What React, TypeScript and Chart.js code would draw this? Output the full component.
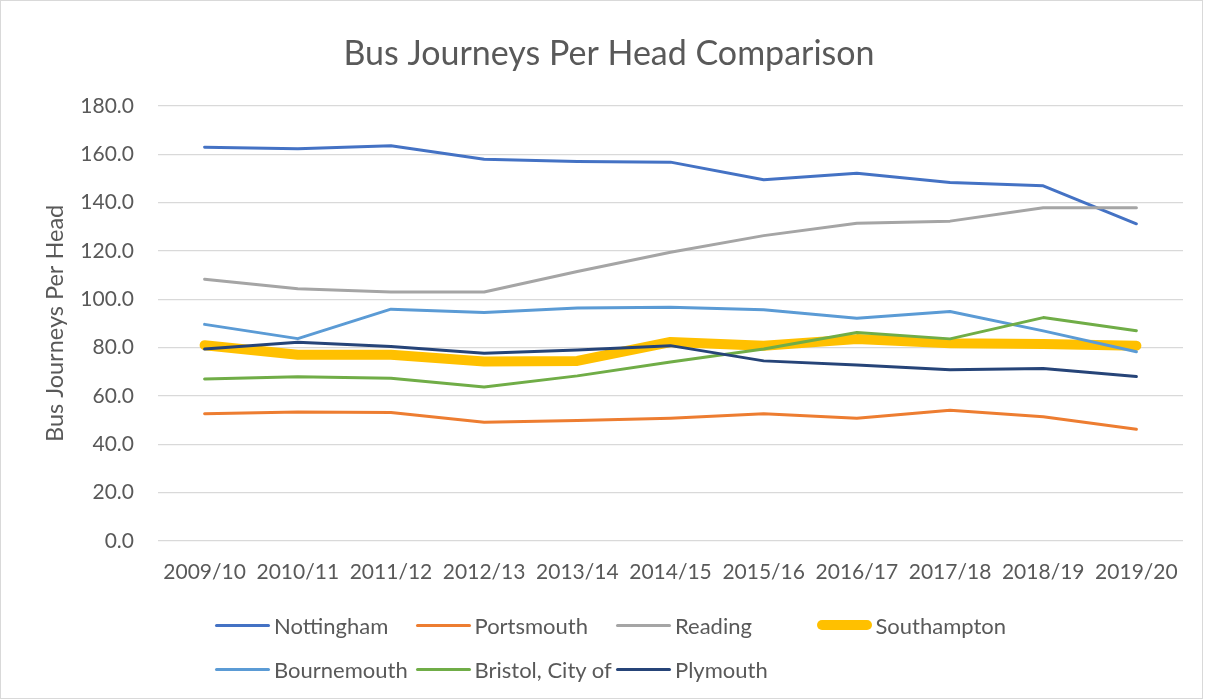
import React, { useEffect, useRef } from "react";
import { Chart, registerables } from "chart.js";

Chart.register(...registerables);

const categories = [
  "2009/10", "2010/11", "2011/12", "2012/13", "2013/14", "2014/15",
  "2015/16", "2016/17", "2017/18", "2018/19", "2019/20",
];

const nottingham = [162.9, 162.2, 163.5, 157.9, 157.0, 156.7, 149.4, 152.1, 148.3, 146.9, 131.2];
const portsmouth = [52.6, 53.4, 53.1, 49.1, 49.8, 50.8, 52.6, 50.8, 54.1, 51.4, 46.2];
const reading = [108.3, 104.3, 103.0, 103.0, 111.5, 119.4, 126.3, 131.4, 132.3, 137.8, 137.8];
const southampton = [81.0, 77.0, 77.0, 74.2, 74.5, 82.3, 80.8, 83.5, 81.8, 81.5, 80.8];
const bournemouth = [89.6, 83.7, 95.9, 94.5, 96.4, 96.7, 95.6, 92.1, 94.9, 86.9, 78.3];
const bristol = [67.0, 67.9, 67.3, 63.7, 68.3, 74.0, 79.4, 86.2, 83.6, 92.4, 87.0];
const plymouth = [79.4, 82.2, 80.4, 77.7, 79.0, 80.8, 74.5, 72.8, 70.8, 71.3, 68.0];

const seriesNames = ["Nottingham", "Portsmouth", "Reading", "Southampton", "Bournemouth", "Bristol, City of", "Plymouth"];
const seriesValues = [nottingham, portsmouth, reading, southampton, bournemouth, bristol, plymouth];
const seriesColors = ["#4472C4", "#ED7D31", "#A5A5A5", "#FFC000", "#5B9BD5", "#70AD47", "#264478"];
const seriesWidths = [3, 3, 3, 10, 3, 3, 3];

const yTicks = { min: 0, max: 180, step: 20 };
const FONT = "Lato, 'Open Sans', sans-serif";
const TEXT = "#595959";

export default function App() {
  const canvasRef = useRef<HTMLCanvasElement | null>(null);

  useEffect(() => {
    if (!canvasRef.current) return;
    const n = seriesNames.length;
    const chart = new Chart(canvasRef.current, {
      type: "line",
      data: {
        labels: categories,
        datasets: seriesNames.map((name, i) => ({
          label: name,
          data: seriesValues[i],
          borderColor: seriesColors[i],
          backgroundColor: seriesColors[i],
          borderWidth: seriesWidths[i],
          borderCapStyle: "round" as const,
          borderJoinStyle: "round" as const,
          pointRadius: 0,
          tension: 0,
          fill: false,
          order: n - i,
        })),
      },
      options: {
        responsive: false,
        animation: false,
        layout: { padding: { left: 35, right: 22, top: 0, bottom: 0 } },
        plugins: {
          legend: { display: false },
          tooltip: { enabled: false },
          title: {
            display: true,
            text: "Bus Journeys Per Head Comparison",
            color: TEXT,
            font: { family: FONT, size: 34, weight: "normal" },
            padding: { top: 34, bottom: 31 },
          },
        },
        scales: {
          x: {
            offset: true,
            grid: { display: false, drawTicks: false },
            border: { display: false },
            ticks: {
              color: TEXT,
              font: { family: FONT, size: 21 },
              padding: 19,
              maxRotation: 0,
              autoSkip: false,
            },
            afterFit: (s: any) => {
              s.height = 159;
            },
          },
          y: {
            min: yTicks.min,
            max: yTicks.max,
            grid: { color: "#D9D9D9", lineWidth: 1.3, drawTicks: false },
            border: { display: false },
            ticks: {
              stepSize: yTicks.step,
              color: TEXT,
              font: { family: FONT, size: 21 },
              padding: 24,
              callback: (v: any) => Number(v).toFixed(1),
            },
            title: {
              display: true,
              text: "Bus Journeys Per Head",
              color: TEXT,
              font: { family: FONT, size: 23.5, weight: "normal" },
              padding: { top: 6, bottom: 0 },
            },
            afterFit: (s: any) => {
              s.width = 123;
            },
          },
        },
      },
    });
    return () => chart.destroy();
  }, []);

  const legendRows = [[0, 1, 2, 3], [4, 5, 6]];
  const rowY = [625, 669];

  return (
    <div
      style={{
        position: "absolute",
        left: 0,
        top: 0,
        width: 1205,
        height: 700,
        background: "#fff",
        fontFamily: FONT,
      }}
    >
      <canvas ref={canvasRef} width={1205} height={700} style={{ display: "block" }} />
      <div
        style={{
          position: "absolute",
          left: 0,
          top: 0,
          width: 1201,
          height: 697,
          border: "1px solid #D9D9D9",
          pointerEvents: "none",
        }}
      />
      {legendRows.map((row, r) =>
        row.map((idx, c) => (
          <div
            key={idx}
            style={{
              position: "absolute",
              left: 215 + c * 200.5,
              top: rowY[r] - 15,
              height: 30,
              display: "flex",
              alignItems: "center",
              whiteSpace: "nowrap",
              color: TEXT,
              fontSize: 22,
            }}
          >
            <span
              style={{
                display: "inline-block",
                width: 55,
                height: seriesWidths[idx],
                borderRadius: seriesWidths[idx] / 2,
                background: seriesColors[idx],
                marginRight: 4,
              }}
            />
            <span>{seriesNames[idx]}</span>
          </div>
        ))
      )}
    </div>
  );
}
